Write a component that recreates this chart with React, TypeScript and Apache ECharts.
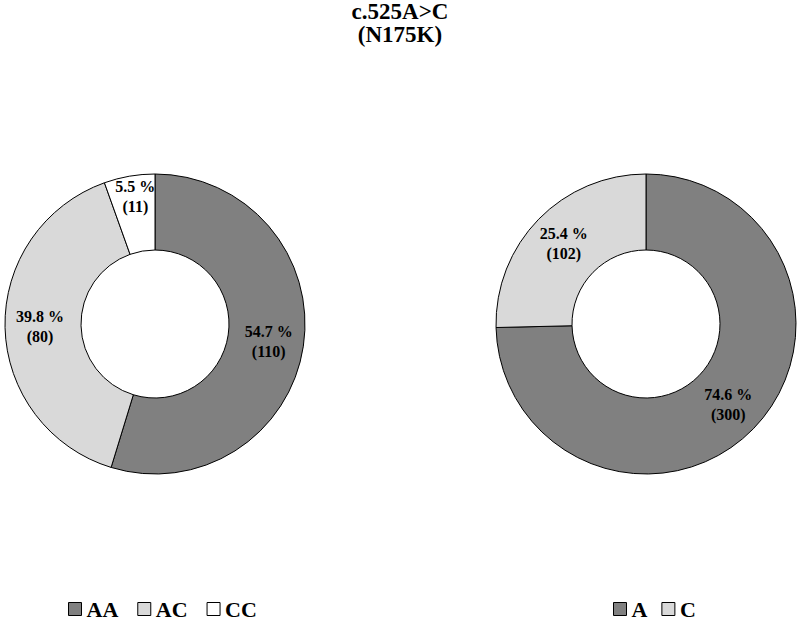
import React, { useEffect, useRef } from "react";
import * as echarts from "echarts";

const titleLines = ["c.525A>C", "(N175K)"];
const genotypeNames = ["AA", "AC", "CC"];
const genotypeCounts = [110, 80, 11];
const alleleNames = ["A", "C"];
const alleleCounts = [300, 102];
const sliceColors = ["#808080", "#d9d9d9", "#ffffff"];

const FONT = "'Liberation Serif', 'Times New Roman', serif";

function pctLabel(params: any) {
  return `${params.percent.toFixed(1)} %\n(${params.value})`;
}

export default function App() {
  const ref = useRef<HTMLDivElement>(null);
  useEffect(() => {
    if (!ref.current) return;
    const chart = echarts.init(ref.current, null, { renderer: "svg" });
    const labelStyle = {
      show: true,
      position: "inside",
      formatter: pctLabel,
      color: "#000",
      fontFamily: FONT,
      fontWeight: "bold",
      fontSize: 16,
      lineHeight: 20,
    };
    const itemStyle = { borderColor: "#000", borderWidth: 1 };
    const legendCommon = {
      orient: "horizontal",
      top: 598,
      padding: 0,
      icon: "rect",
      itemWidth: 13,
      itemHeight: 13,
      textStyle: { fontFamily: FONT, fontWeight: "bold", fontSize: 22, color: "#000" },
      itemStyle: { borderColor: "#000", borderWidth: 1 },
      selectedMode: false,
    };
    chart.setOption({
      animation: false,
      backgroundColor: "#fff",
      title: {
        text: titleLines.join("\n"),
        left: "center",
        top: 0,
        padding: 0,
        textStyle: { fontFamily: FONT, fontWeight: "bold", fontSize: 23, lineHeight: 23, color: "#000" },
      },
      legend: [
        { ...legendCommon, left: 68, itemGap: 19, data: genotypeNames },
        { ...legendCommon, left: 613, itemGap: 14, data: alleleNames },
      ],
      series: [
        {
          type: "pie",
          center: [155, 324],
          radius: [74, 150],
          startAngle: 90,
          clockwise: true,
          avoidLabelOverlap: false,
          label: labelStyle,
          labelLine: { show: false },
          itemStyle,
          labelLayout: (p: any) => (p.dataIndex === 2 ? { dy: -14 } : {}),
          data: genotypeNames.map((n, i) => ({ name: n, value: genotypeCounts[i], itemStyle: { color: sliceColors[i] } })),
        },
        {
          type: "pie",
          center: [646, 324],
          radius: [74, 150],
          startAngle: 90,
          clockwise: true,
          avoidLabelOverlap: false,
          label: labelStyle,
          labelLine: { show: false },
          itemStyle,
          data: alleleNames.map((n, i) => ({ name: n, value: alleleCounts[i], itemStyle: { color: sliceColors[i] } })),
        },
      ],
    });
    return () => chart.dispose();
  }, []);
  return <div ref={ref} style={{ position: "fixed", left: 0, top: 0, width: 800, height: 621 }} />;
}
